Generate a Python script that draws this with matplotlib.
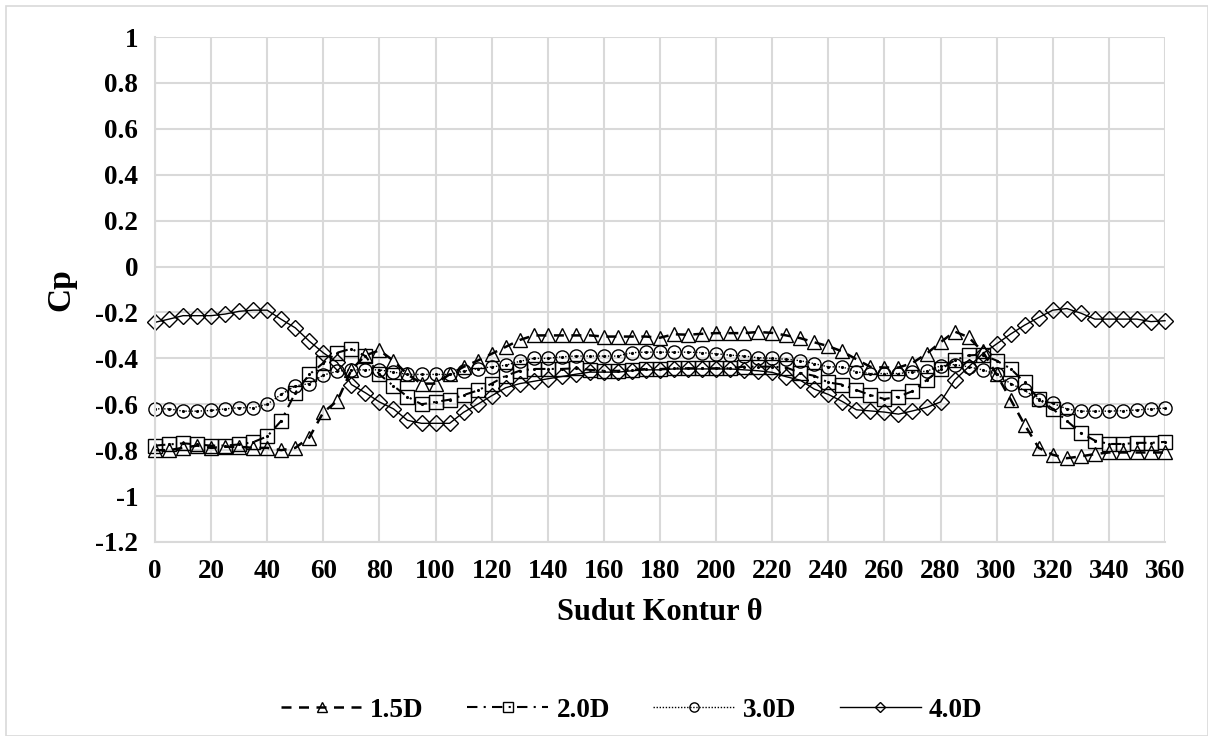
import matplotlib
matplotlib.use('Agg')
import matplotlib.pyplot as plt
from matplotlib.patches import Rectangle

# contour angle, every 5 degrees
theta = list(range(0, 361, 5))

cp_15d = [-0.80, -0.80, -0.79, -0.78, -0.79, -0.785, -0.785, -0.79, -0.79, -0.80,
          -0.79, -0.745, -0.635, -0.585, -0.45, -0.387, -0.365, -0.41, -0.47, -0.51,
          -0.51, -0.47, -0.437, -0.41, -0.38, -0.35, -0.32, -0.30, -0.30, -0.30,
          -0.30, -0.30, -0.305, -0.305, -0.305, -0.305, -0.31, -0.295, -0.297, -0.293,
          -0.29, -0.29, -0.29, -0.285, -0.289, -0.30, -0.312, -0.33, -0.347, -0.37,
          -0.404, -0.437, -0.44, -0.44, -0.42, -0.38, -0.33, -0.283, -0.308, -0.37,
          -0.47, -0.58, -0.69, -0.79, -0.82, -0.835, -0.827, -0.817, -0.81, -0.81,
          -0.81, -0.81, -0.81]

cp_20d = [-0.78, -0.775, -0.77, -0.775, -0.78, -0.78, -0.775, -0.765, -0.74, -0.672,
          -0.55, -0.47, -0.42, -0.375, -0.358, -0.39, -0.47, -0.52, -0.567, -0.60,
          -0.59, -0.58, -0.56, -0.54, -0.51, -0.476, -0.454, -0.446, -0.446, -0.446,
          -0.443, -0.45, -0.454, -0.454, -0.45, -0.446, -0.446, -0.443, -0.443, -0.443,
          -0.443, -0.443, -0.436, -0.436, -0.436, -0.44, -0.463, -0.476, -0.505, -0.514,
          -0.538, -0.56, -0.577, -0.567, -0.543, -0.495, -0.447, -0.409, -0.387, -0.384,
          -0.41, -0.445, -0.505, -0.577, -0.62, -0.672, -0.725, -0.758, -0.773, -0.773,
          -0.768, -0.768, -0.764]

cp_30d = [-0.62, -0.62, -0.63, -0.63, -0.627, -0.62, -0.615, -0.615, -0.60, -0.557,
          -0.52, -0.51, -0.473, -0.456, -0.45, -0.45, -0.45, -0.46, -0.47, -0.47,
          -0.47, -0.47, -0.456, -0.445, -0.437, -0.43, -0.413, -0.40, -0.40, -0.393,
          -0.39, -0.39, -0.39, -0.39, -0.375, -0.373, -0.373, -0.373, -0.373, -0.375,
          -0.38, -0.386, -0.39, -0.397, -0.40, -0.404, -0.41, -0.423, -0.437, -0.437,
          -0.459, -0.466, -0.466, -0.466, -0.46, -0.456, -0.433, -0.427, -0.437, -0.45,
          -0.47, -0.51, -0.54, -0.58, -0.596, -0.62, -0.63, -0.63, -0.63, -0.628,
          -0.625, -0.62, -0.617]

cp_40d = [-0.243, -0.229, -0.214, -0.214, -0.214, -0.207, -0.195, -0.19, -0.19, -0.23,
          -0.267, -0.325, -0.376, -0.418, -0.514, -0.55, -0.59, -0.62, -0.67, -0.683,
          -0.683, -0.683, -0.635, -0.60, -0.563, -0.528, -0.51, -0.50, -0.489, -0.479,
          -0.469, -0.46, -0.46, -0.46, -0.454, -0.45, -0.45, -0.446, -0.446, -0.446,
          -0.446, -0.446, -0.45, -0.454, -0.461, -0.48, -0.495, -0.534, -0.557, -0.588,
          -0.624, -0.629, -0.634, -0.643, -0.629, -0.614, -0.59, -0.495, -0.437, -0.38,
          -0.337, -0.294, -0.255, -0.222, -0.19, -0.183, -0.203, -0.229, -0.229, -0.229,
          -0.229, -0.24, -0.236]

labels = ['1.5D', '2.0D', '3.0D', '4.0D']

plt.rcParams['font.family'] = ['Liberation Serif', 'DejaVu Serif']
plt.rcParams['font.weight'] = 'bold'

fig = plt.figure(figsize=(12.08, 7.36), dpi=100)
ax = fig.add_axes([0.1283, 0.2636, 0.8361, 0.6861])

grid_c = '#d9d9d9'

h1, = ax.plot(theta, cp_15d, color='black', ls=(0, (4, 3)), lw=1.8,
              marker='^', ms=10, mfc='none', mew=1.0, clip_on=False, label=labels[0])
h2, = ax.plot(theta, cp_20d, color='black', ls=(0, (5, 3, 1, 3)), lw=1.5,
              marker='s', ms=9.5, mfc='none', mew=1.0, clip_on=False, label=labels[1])
ax.plot(theta, cp_20d, ls='none', marker='.', ms=2.5, color='black', clip_on=False)
h3, = ax.plot(theta, cp_30d, color='black', ls=(0, (1, 1.2)), lw=1.0,
              marker='o', ms=9.5, mfc='none', mew=1.0, clip_on=False, label=labels[2])
ax.plot(theta, cp_30d, ls='none', marker='.', ms=2.5, color='black', clip_on=False)
h4, = ax.plot(theta, cp_40d, color='black', ls='-', lw=1.0,
              marker='D', ms=8, mfc='none', mew=1.0, clip_on=False, label=labels[3])

ax.set_xlim(0, 360)
ax.set_ylim(-1.2, 1.0)
ax.set_xticks(range(0, 361, 20))
ax.set_yticks([1, 0.8, 0.6, 0.4, 0.2, 0, -0.2, -0.4, -0.6, -0.8, -1, -1.2])
ax.set_yticklabels(['1', '0.8', '0.6', '0.4', '0.2', '0', '-0.2', '-0.4', '-0.6',
                    '-0.8', '-1', '-1.2'])
ax.grid(True, color=grid_c, lw=1.5)
ax.set_axisbelow(True)
for s in ['top', 'right']:
    ax.spines[s].set_visible(False)
for s in ['left', 'bottom']:
    ax.spines[s].set_color(grid_c)
    ax.spines[s].set_linewidth(1.5)
ax.tick_params(length=0, labelsize=19.5, pad=12)
for t in ax.get_xticklabels() + ax.get_yticklabels():
    t.set_fontweight('bold')

ax.set_xlabel('Sudut Kontur θ', fontsize=22, fontweight='bold', labelpad=10)
ax.set_ylabel('Cp', fontsize=24, fontweight='bold', labelpad=14)

fig.legend(handles=[h1, h2, h3, h4], loc='center', bbox_to_anchor=(0.523, 0.035),
           ncol=4, frameon=False, handlelength=3.0, handletextpad=0.3,
           columnspacing=1.6, markerscale=0.7,
           prop={'size': 19.5, 'weight': 'bold'})

# light border around the chart area
fig.patches.append(Rectangle((0.005, 0.0), 0.995, 0.992, transform=fig.transFigure,
                             fill=False, edgecolor='#d9d9d9', lw=1.2))

fig.savefig('out.png', dpi=100)
